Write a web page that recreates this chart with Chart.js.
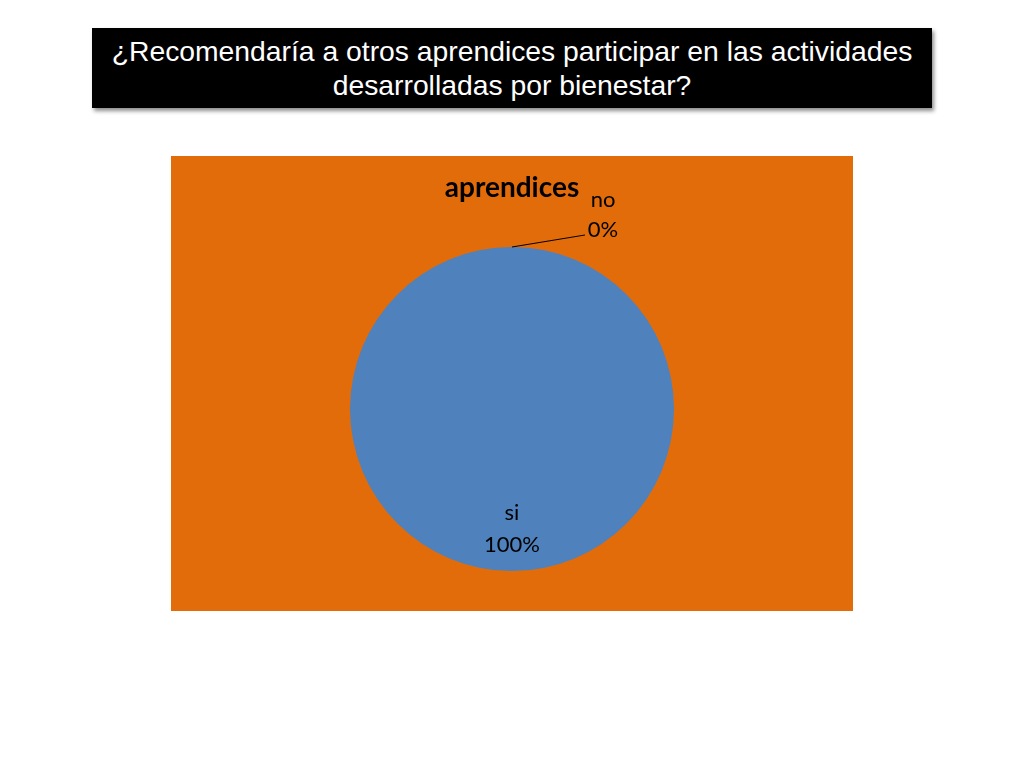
<!DOCTYPE html>
<html><head><meta charset="utf-8">
<script src="https://cdn.jsdelivr.net/npm/chart.js@4"></script>
<style>
body{margin:0;background:#fff;width:1024px;height:768px;position:relative;overflow:hidden}
#hdr{position:absolute;left:92px;top:28px;width:840px;height:80px;background:#000;color:#fff;
font-family:"Liberation Sans",Arial,sans-serif;font-size:28.3px;line-height:34px;text-align:center;
box-shadow:2px 3px 4px rgba(0,0,0,0.45);display:flex;align-items:center;justify-content:center}
#wrap{position:absolute;left:171px;top:156px;width:682px;height:455px;background:#E36C0A}
</style></head><body>
<div id="hdr"><div>¿Recomendaría a otros aprendices participar en las actividades<br>desarrolladas por bienestar?</div></div>
<div id="wrap"><canvas id="c" width="682" height="455"></canvas></div>
<script>
const categories = ["si", "no"];
const values = [100, 0];
const percentLabels = ["100%", "0%"];
const chartTitle = "aprendices";

const labelPlugin = {
  id: "sliceLabels",
  afterDatasetsDraw(chart) {
    const ctx = chart.ctx;
    const meta = chart.getDatasetMeta(0);
    ctx.save();
    ctx.font = "22px Lato, 'Open Sans', sans-serif";
    ctx.fillStyle = "#000";
    ctx.textAlign = "center";
    ctx.textBaseline = "middle";
    meta.data.forEach((arc, i) => {
      const p = arc.getProps(["x","y","startAngle","endAngle","outerRadius"], true);
      const mid = (p.startAngle + p.endAngle) / 2;
      if (values[i] > 0) {
        const r = p.outerRadius * 0.74;
        const x = p.x + Math.cos(mid) * r, y = p.y + Math.sin(mid) * r;
        ctx.fillText(categories[i], x, y - 16);
        ctx.fillText(percentLabels[i], x, y + 16);
      } else {
        const ex = p.x + Math.cos(mid) * p.outerRadius, ey = p.y + Math.sin(mid) * p.outerRadius;
        const lx = ex + 73, ly = ey - 12;
        ctx.strokeStyle = "#000"; ctx.lineWidth = 1;
        ctx.beginPath(); ctx.moveTo(ex, ey); ctx.lineTo(lx, ly); ctx.stroke();
        ctx.fillText(categories[i], ex + 91, ey - 47);
        ctx.fillText(percentLabels[i], ex + 91, ey - 17);
      }
    });
    ctx.restore();
  }
};

new Chart(document.getElementById("c"), {
  type: "pie",
  data: { labels: categories, datasets: [{ data: values, backgroundColor: ["#4F81BD", "#C0504D"], borderWidth: 0 }] },
  options: {
    responsive: false, animation: false,
    layout: { padding: { top: 0, bottom: 40 } },
    plugins: {
      legend: { display: false },
      tooltip: { enabled: false },
      title: { display: true, text: chartTitle, color: "#000",
        font: { family: "Lato, 'Open Sans', sans-serif", size: 28, weight: "bold", lineHeight: 1.2 },
        padding: { top: 15, bottom: 42.4 } }
    }
  },
  plugins: [labelPlugin]
});
</script>
</body></html>
